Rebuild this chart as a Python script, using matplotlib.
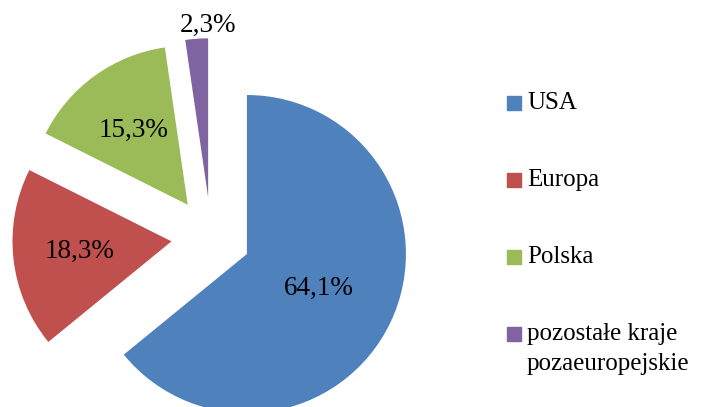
import numpy as np
import matplotlib.pyplot as plt
from matplotlib.patches import Rectangle

# dane z wykresu
labels = ['USA', 'Europa', 'Polska', 'pozostałe kraje\npozaeuropejskie']
values = [64.1, 18.3, 15.3, 2.3]
colors = ['#4F81BD', '#C0504D', '#9BBB59', '#8064A2']

plt.rcParams['font.family'] = ['Liberation Serif', 'DejaVu Serif']

W, H = 706, 407
fig = plt.figure(figsize=(W / 100, H / 100), dpi=100)
ax = fig.add_axes([0, 0, 1, 1])

radius = 159
center = (211, H - 237)
explode = [0.25 * radius] * len(values)

wedges, texts, autotexts = ax.pie(
    values, colors=colors, startangle=90, counterclock=False,
    radius=radius, center=center, explode=explode,
    autopct=lambda p: f'{p:.1f}%'.replace('.', ','),
    pctdistance=0.58, textprops={'fontsize': 19.5, 'color': 'black'},
    wedgeprops={'linewidth': 0})

# polozenie etykiet: odleglosc od wierzcholka i miejsce w kacie klina
label_dist = [0.5, 0.58, 0.58, 1.08]
label_frac = [0.5, 0.5, 0.5, 0.0]
for w, t, d, f in zip(wedges, autotexts, label_dist, label_frac):
    th = np.deg2rad(w.theta1 + f * (w.theta2 - w.theta1))
    cx, cy = w.center
    t.set_position((cx + d * radius * np.cos(th), cy + d * radius * np.sin(th)))

ax.set_xlim(0, W)
ax.set_ylim(0, H)
ax.set_aspect('auto')
ax.axis('off')

# legenda
for i, (lab, col) in enumerate(zip(labels, colors)):
    yc = 103 + i * 77
    fig.patches.append(Rectangle((507 / W, 1 - (yc + 7) / H), 14 / W, 14 / H,
                                 transform=fig.transFigure, color=col))
    fig.text(527 / W, 1 - (yc - 11) / H, lab, fontsize=18, va='top',
             ha='left', linespacing=1.45)

fig.savefig('out.png', dpi=100)
